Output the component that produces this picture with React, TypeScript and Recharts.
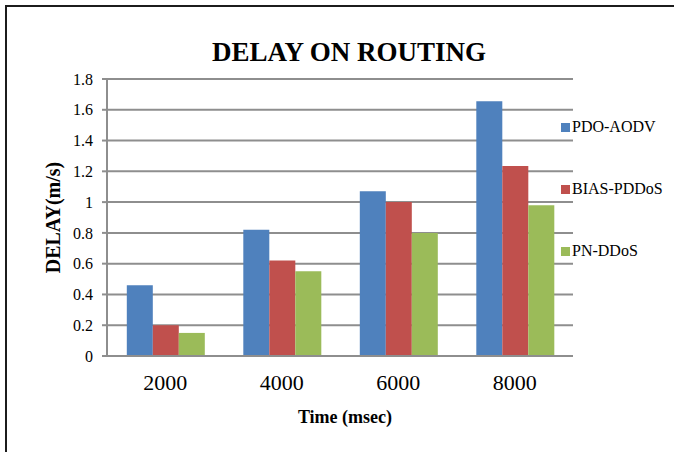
import React from "react";
import {
  BarChart,
  Bar,
  XAxis,
  YAxis,
  CartesianGrid,
  Legend,
} from "recharts";

// time steps (msec) and delay per protocol
const times = ["2000", "4000", "6000", "8000"];
const seriesNames = ["PDO-AODV", "BIAS-PDDoS", "PN-DDoS"];
const pdoAodv = [0.46, 0.82, 1.07, 1.655];
const biasPddos = [0.2, 0.62, 1.0, 1.235];
const pnDdos = [0.15, 0.55, 0.8, 0.98];
const yTicks = [0, 0.2, 0.4, 0.6, 0.8, 1, 1.2, 1.4, 1.6, 1.8];

const data = times.map((t, i) => ({
  time: t,
  pdo: pdoAodv[i],
  bias: biasPddos[i],
  pn: pnDdos[i],
}));

const FONT = '"Liberation Serif", "Times New Roman", serif';
const GRID = "#8e8e8e";

function LegendBox(props: any) {
  // keep the series order instead of the alphabetical one
  const items = [...(props.payload || [])].sort(
    (a: any, b: any) => seriesNames.indexOf(a.value) - seriesNames.indexOf(b.value)
  );
  return (
    <div style={{ fontFamily: FONT, fontSize: 16, color: "#000" }}>
      {items.map((it: any) => (
        <div
          key={it.value}
          style={{
            display: "flex",
            alignItems: "center",
            height: 18,
            marginBottom: 44,
            whiteSpace: "nowrap",
          }}
        >
          <span
            style={{
              display: "inline-block",
              width: 9,
              height: 9,
              background: it.color,
              marginRight: 2,
            }}
          />
          <span>{it.value}</span>
        </div>
      ))}
    </div>
  );
}

export default function App() {
  return (
    <div
      style={{
        position: "absolute",
        left: 0,
        top: 0,
        width: 674,
        height: 452,
        overflow: "hidden",
        background: "#fff",
        fontFamily: FONT,
      }}
    >
      {/* frame around the figure */}
      <div
        style={{
          position: "absolute",
          left: 5,
          top: 5,
          width: 700,
          height: 480,
          borderLeft: "2px solid #1c1c1c",
          borderTop: "2px solid #1c1c1c",
        }}
      />
      <div
        style={{
          position: "absolute",
          left: 0,
          top: 39,
          width: 698,
          textAlign: "center",
          fontSize: 27,
          lineHeight: "27px",
          fontWeight: "bold",
          color: "#000",
        }}
      >
        DELAY ON ROUTING
      </div>
      <BarChart
        width={674}
        height={452}
        data={data}
        margin={{ top: 79, right: 101, bottom: 26, left: 0 }}
        barCategoryGap="17%"
        barGap={0}
        style={{ position: "absolute", left: 0, top: 0 }}
      >
        <CartesianGrid vertical={false} stroke={GRID} strokeWidth={2} />
        <XAxis
          dataKey="time"
          height={70}
          axisLine={{ stroke: GRID, strokeWidth: 2 }}
          tickLine={false}
          tickSize={0}
          tickMargin={18}
          tick={{ fill: "#000", fontSize: 22, fontFamily: FONT }}
          label={{
            value: "Time (msec)",
            position: "insideBottom",
            offset: 3,
            dx: 5,
            fill: "#000",
            fontSize: 18,
            fontWeight: "bold",
            fontFamily: FONT,
          }}
        />
        <YAxis
          width={107}
          domain={[0, 1.8]}
          ticks={yTicks}
          interval={0}
          axisLine={{ stroke: GRID, strokeWidth: 2 }}
          tickLine={{ stroke: GRID, strokeWidth: 2 }}
          tickSize={5}
          tickMargin={9}
          tick={{ fill: "#000", fontSize: 16, fontFamily: FONT }}
          label={{
            value: "DELAY(m/s)",
            angle: -90,
            position: "center",
            dx: -1,
            fill: "#000",
            fontSize: 20,
            fontWeight: "bold",
            fontFamily: FONT,
          }}
        />
        <Legend
          layout="horizontal"
          verticalAlign="middle"
          align="center"
          wrapperStyle={{ left: 561, top: 118, width: 112 }}
          content={<LegendBox />}
        />
        <Bar dataKey="pdo" name={seriesNames[0]} fill="#4F81BD" isAnimationActive={false} />
        <Bar dataKey="bias" name={seriesNames[1]} fill="#C0504D" isAnimationActive={false} />
        <Bar dataKey="pn" name={seriesNames[2]} fill="#9BBB59" isAnimationActive={false} />
      </BarChart>
    </div>
  );
}
